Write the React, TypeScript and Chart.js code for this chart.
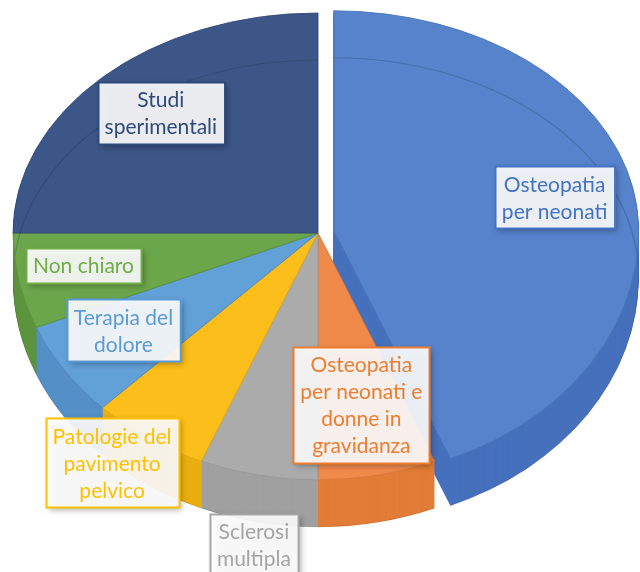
import React, { useEffect, useRef } from 'react';
import { Chart, registerables } from 'chart.js';

Chart.register(...registerables);

// ---- data ----
const categories = [
  'Osteopatia per neonati',
  'Osteopatia per neonati e donne in gravidanza',
  'Sclerosi multipla',
  'Patologie del pavimento pelvico',
  'Terapia del dolore',
  'Non chiaro',
  'Studi sperimentali',
];
const values = [7, 1, 1, 1, 1, 1, 4];
const labelLines = [
  ['Osteopatia', 'per neonati'],
  ['Osteopatia', 'per neonati e', 'donne in', 'gravidanza'],
  ['Sclerosi', 'multipla'],
  ['Patologie del', 'pavimento', 'pelvico'],
  ['Terapia del', 'dolore'],
  ['Non chiaro'],
  ['Studi', 'sperimentali'],
];

// ---- styles ----
const topColors = ['#5683CB', '#F08A4B', '#ABABAB', '#FBBE1A', '#62A0D8', '#6CA64A', '#3C5787'];
const wallColors = ['#4670BC', '#E27C37', '#A0A0A0', '#EAAE10', '#548FC6', '#5D943E', '#30497A'];
const borderColors = ['#4A73B8', '#D8773A', '#979797', '#E0AA12', '#5288C0', '#5C9140', '#33497A'];
const labelColors = ['#4472C4', '#ED7D31', '#A5A5A5', '#FFC000', '#5B9BD5', '#70AD47', '#2E4A7C'];
const labelRadius = [0.74, 0.71, 1.28, 1.15, 0.75, 0.78, 0.75];
const labelAngleShift = [-0.5, -0.3, -1.8, 2.2, 2.0, 1.6, 1.6]; // degrees
const EXPLODE = [16, 0, 0, 0, 0, 0, 0];

const SX = 318; // screen centre of pie
const SY = 233;
const RADIUS = 305;
const K_TOP = 220 / 305;
const K_BOT = 247 / 305;
const DEPTH = 47;
const FONT = '21px Lato, "Open Sans", sans-serif';
const LINE_H = 27;

const pie3d = {
  id: 'pie3d',
  beforeDatasetsDraw(chart: any) {
    const ctx: CanvasRenderingContext2D = chart.ctx;
    const arcs: any[] = chart.getDatasetMeta(0).data;
    if (!arcs.length) return false;
    const cx = arcs[0].x;
    const cy = arcs[0].y;
    const W = chart.width;
    const H = chart.height;

    const shift = (a: any, i: number) => {
      const mid = (a.startAngle + a.endAngle) / 2;
      return [Math.cos(mid) * EXPLODE[i], Math.sin(mid) * EXPLODE[i]];
    };
    const wedge = (a: any, i: number) => {
      const [ox, oy] = shift(a, i);
      const x = a.x + ox;
      const y = a.y + oy;
      ctx.beginPath();
      ctx.moveTo(x, y);
      ctx.arc(x, y, a.outerRadius, a.startAngle, a.endAngle);
      ctx.closePath();
    };
    const withHalves = (d: number, fn: () => void) => {
      for (let half = 0; half < 2; half++) {
        ctx.save();
        ctx.beginPath();
        if (half === 0) ctx.rect(0, -10, W, SY + d + 10);
        else ctx.rect(0, SY + d, W, H - SY - d + 10);
        ctx.clip();
        ctx.translate(SX, SY + d);
        ctx.scale(1, half === 0 ? K_TOP : K_BOT);
        ctx.translate(-cx, -cy);
        fn();
        ctx.restore();
      }
    };

    // side walls (extrusion)
    for (let d = DEPTH; d >= 1; d--) {
      withHalves(d, () => {
        arcs.forEach((a, i) => {
          wedge(a, i);
          ctx.fillStyle = wallColors[i];
          ctx.fill();
        });
      });
    }
    // wall bottom edge
    withHalves(DEPTH, () => {
      arcs.forEach((a, i) => {
        const [ox, oy] = shift(a, i);
        ctx.beginPath();
        ctx.arc(a.x + ox, a.y + oy, a.outerRadius, a.startAngle, a.endAngle);
        ctx.strokeStyle = 'rgba(0,0,0,0.12)';
        ctx.lineWidth = 1;
        ctx.stroke();
      });
    });

    // top faces
    withHalves(0, () => {
      arcs.forEach((a, i) => {
        const [ox, oy] = shift(a, i);
        ctx.save();
        ctx.translate(ox, oy);
        a.draw(ctx);
        ctx.restore();
      });
    });

    // faint see-through back edge of the bottom face
    ctx.save();
    ctx.beginPath();
    ctx.rect(0, 0, W, SY + DEPTH + 2);
    ctx.clip();
    ctx.translate(SX, SY);
    ctx.scale(1, K_TOP);
    ctx.translate(-cx, -cy);
    arcs.forEach((a, i) => {
      const [ox, oy] = shift(a, i);
      ctx.save();
      wedge(a, i);
      ctx.clip();
      ctx.beginPath();
      ctx.arc(a.x + ox, a.y + oy + DEPTH / K_TOP, a.outerRadius, Math.PI, 2 * Math.PI);
      ctx.strokeStyle = 'rgba(20,30,50,0.2)';
      ctx.lineWidth = 1.3;
      ctx.stroke();
      ctx.restore();
    });
    ctx.restore();
    return false;
  },
  afterDraw(chart: any) {
    const ctx: CanvasRenderingContext2D = chart.ctx;
    const arcs: any[] = chart.getDatasetMeta(0).data;
    if (!arcs.length) return;
    ctx.save();
    ctx.font = FONT;
    ctx.textAlign = 'center';
    ctx.textBaseline = 'middle';
    arcs.forEach((a, i) => {
      const mid = (a.startAngle + a.endAngle) / 2 + (labelAngleShift[i] * Math.PI) / 180;
      const dist = EXPLODE[i] + labelRadius[i] * a.outerRadius;
      const px = Math.cos(mid) * dist;
      const py = Math.sin(mid) * dist;
      const X = SX + px;
      const Y = SY + py * (py < 0 ? K_TOP : K_BOT);
      const lines = labelLines[i];
      const tw = Math.max(...lines.map((l) => ctx.measureText(l).width));
      const bw = tw + 14;
      const bh = lines.length * LINE_H + 8;
      const bx = Math.round(X - bw / 2) + 0.5;
      const by = Math.round(Y - bh / 2) + 0.5;
      ctx.save();
      ctx.shadowColor = 'rgba(0,0,0,0.35)';
      ctx.shadowBlur = 6;
      ctx.shadowOffsetX = 2;
      ctx.shadowOffsetY = 2;
      ctx.fillStyle = 'rgba(255,255,255,0.9)';
      ctx.fillRect(bx, by, bw, bh);
      ctx.restore();
      ctx.strokeStyle = labelColors[i];
      ctx.lineWidth = 2;
      ctx.strokeRect(bx, by, bw, bh);
      ctx.fillStyle = labelColors[i];
      lines.forEach((l, j) => {
        ctx.fillText(l, X, Y - ((lines.length - 1) / 2) * LINE_H + j * LINE_H + 1);
      });
    });
    ctx.restore();
  },
};

export default function App() {
  const ref = useRef<HTMLCanvasElement | null>(null);
  useEffect(() => {
    if (!ref.current) return;
    const chart = new Chart(ref.current, {
      type: 'pie',
      data: {
        labels: categories,
        datasets: [
          {
            data: values,
            backgroundColor: topColors,
            borderColor: borderColors,
            borderWidth: 1,
            borderJoinStyle: 'bevel',
          } as any,
        ],
      },
      options: {
        responsive: false,
        animation: false,
        radius: RADIUS,
        layout: { padding: 0 },
        plugins: {
          legend: { display: false },
          tooltip: { enabled: false },
        },
        events: [],
      } as any,
      plugins: [pie3d as any],
    });
    return () => chart.destroy();
  }, []);
  return (
    <div style={{ position: 'absolute', left: 0, top: 0, width: 640, height: 572, background: '#fff' }}>
      <canvas ref={ref} width={640} height={572} style={{ display: 'block', width: 640, height: 572 }} />
    </div>
  );
}
